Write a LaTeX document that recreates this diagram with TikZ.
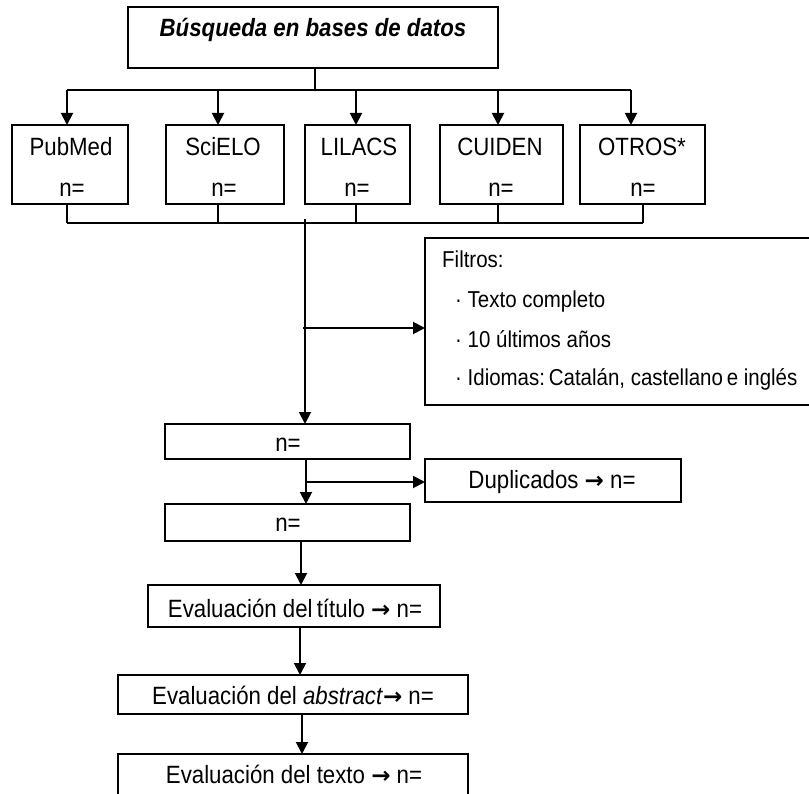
\documentclass[tikz,border=0pt]{standalone}
\usepackage{fontspec}
\setmainfont{Liberation Sans}[FakeStretch=0.89]
\newfontfamily\arrfont{DejaVu Sans}
\newcommand{\flecha}{{\arrfont\bfseries\fontsize{23}{24}\selectfont →}}
\usetikzlibrary{arrows.meta}
\begin{document}
\begin{tikzpicture}[x=1pt,y=-1pt,
  box/.style={draw, line width=1.9pt, inner sep=0pt, outer sep=0pt},
  lbl/.style={anchor=base, inner sep=0pt, font=\fontsize{25}{28}\selectfont},
  flt/.style={anchor=base west, inner sep=0pt, font=\fontsize{23}{26}\selectfont},
  conn/.style={line width=1.9pt},
  arr/.style={conn, -{Triangle[length=12pt,width=12pt]}},
]
\useasboundingbox (0,0) rectangle (809,794);

% boxes
\node[box, minimum width=370pt, minimum height=61pt] (top) at (313,37.5) {};
\node[box, minimum width=116pt, minimum height=79pt] (pub) at (70,164.5) {};
\node[box, minimum width=118pt, minimum height=79pt] (sci) at (225,164.5) {};
\node[box, minimum width=105pt, minimum height=79pt] (lil) at (357.5,164.5) {};
\node[box, minimum width=123pt, minimum height=79pt] (cui) at (501.5,164.5) {};
\node[box, minimum width=125pt, minimum height=79pt] (otr) at (642.5,164.5) {};
\node[box, minimum width=390pt, minimum height=167pt] (flt) at (620,321.5) {};
\node[box, minimum width=245pt, minimum height=35pt] (n1) at (287.5,441.5) {};
\node[box, minimum width=256pt, minimum height=43pt] (dup) at (553,480.5) {};
\node[box, minimum width=245pt, minimum height=37pt] (n2) at (287.5,522.5) {};
\node[box, minimum width=292pt, minimum height=42pt] (tit) at (294,606) {};
\node[box, minimum width=350pt, minimum height=39pt] (abs) at (293,694.5) {};
\node[box, minimum width=350pt, minimum height=43pt] (tex) at (293,775.5) {};

% texts
\node[lbl, font=\fontsize{25}{28}\selectfont\bfseries\itshape] (topT) at (313,37) {Búsqueda en bases de datos};
\node[lbl] (pubT) at (71,156) {PubMed};
\node[lbl] (pubN) at (72,197) {n=};
\node[lbl] (sciT) at (223,156) {SciELO};
\node[lbl] (sciN) at (224,197) {n=};
\node[lbl] (lilT) at (359,156) {LILACS};
\node[lbl] (lilN) at (357,197) {n=};
\node[lbl] (cuiT) at (500,156) {CUIDEN};
\node[lbl] (cuiN) at (501,197) {n=};
\node[lbl] (otrT) at (642,156) {OTROS*};
\node[lbl] (otrN) at (643,197) {n=};

\node[flt] (f1) at (442,268) {Filtros:};
\node[flt] (f2) at (455,308) {· Texto completo};
\node[flt] (f3) at (455,348) {· 10 últimos años};
\node[flt] (f4) at (455,386) {· Idiomas:\,Catalán, castellano\,e inglés};

\node[lbl] (n1T) at (288,451) {n=};
\node[lbl] (dupT) at (552,488) {Duplicados \flecha\ n=};
\node[lbl] (n2T) at (288,531) {n=};
\node[lbl] (titT) at (295,617) {Evaluación del\,título \flecha\ n=};
\node[lbl] (absT) at (293,704) {Evaluación del \textit{abstract}\flecha\ n=};
\node[lbl] (texT) at (294,783) {Evaluación del texto \flecha\ n=};

% connectors top
\coordinate (j1) at (315,90);
\coordinate (b1) at (67,90);
\coordinate (b2) at (218,90);
\coordinate (b3) at (356,90);
\coordinate (b4) at (498,90);
\coordinate (b5) at (631,90);
\draw[conn] (top.south -| j1) -- (j1);
\draw[conn] (b1) -- (b5);
\draw[arr] (b1) -- (b1 |- pub.north);
\draw[arr] (b2) -- (b2 |- sci.north);
\draw[arr] (b3) -- (b3 |- lil.north);
\draw[arr] (b4) -- (b4 |- cui.north);
\draw[arr] (b5) -- (b5 |- otr.north);

% connectors bottom
\coordinate (c1) at (67,223);
\coordinate (c2) at (218,223);
\coordinate (c3) at (356,223);
\coordinate (c4) at (498,223);
\coordinate (c5) at (643,223);
\draw[conn] (c1 |- pub.south) -- (c1);
\draw[conn] (c2 |- sci.south) -- (c2);
\draw[conn] (c3 |- lil.south) -- (c3);
\draw[conn] (c4 |- cui.south) -- (c4);
\draw[conn] (c5 |- otr.south) -- (c5);
\draw[conn] (c1) -- (c5);

% main flow
\coordinate (m0) at (305,219);
\coordinate (f0) at (303,328);
\draw[arr] (m0) -- (m0 |- n1.north);
\draw[arr] (f0) -- (f0 -| flt.west);
\coordinate (d0) at (306,482);
\draw[arr] (d0 |- n1.south) -- (d0 |- n2.north);
\draw[arr] (d0) -- (d0 -| dup.west);
\coordinate (e1) at (301,0);
\coordinate (e2) at (300,0);
\coordinate (e3) at (302,0);
\draw[arr] (e1 |- n2.south) -- (e1 |- tit.north);
\draw[arr] (e2 |- tit.south) -- (e2 |- abs.north);
\draw[arr] (e3 |- abs.south) -- (e3 |- tex.north);
\end{tikzpicture}
\end{document}
